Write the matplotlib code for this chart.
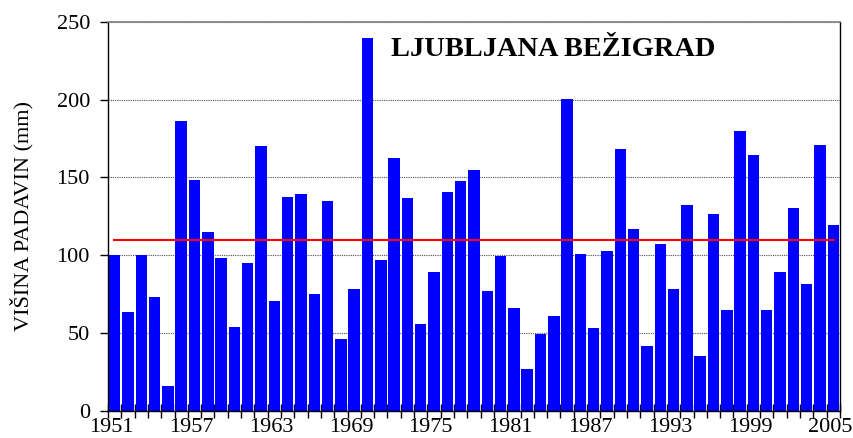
import numpy as np
import matplotlib
matplotlib.use('Agg')
import matplotlib.pyplot as plt

# Annual precipitation, Ljubljana Bezigrad
years = list(range(1951, 2006))
precip = [100.0, 63.4, 100.0, 73.0, 15.9, 186.2, 148.2, 114.8, 98.1, 53.8,
          94.9, 170.1, 70.5, 137.3, 139.2, 75.0, 134.7, 46.1, 78.2,
          239.5, 96.8, 162.4, 136.7, 55.7, 89.1, 140.5, 147.6, 154.7, 76.9,
          99.4, 66.0, 26.8, 49.3, 60.8, 200.3, 100.7, 53.1,
          102.6, 168.2, 116.8, 41.6, 107.1, 78.2, 132.2, 35.1, 126.4, 64.7,
          179.7, 164.3, 64.7, 89.1, 130.2, 81.4, 170.7, 119.3]
mean_value = 109.7
label_years = [1951, 1957, 1963, 1969, 1975, 1981, 1987, 1993, 1999, 2005]
title = 'LJUBLJANA BEŽIGRAD'
ylabel = 'VIŠINA PADAVIN (mm)'

plt.rcParams['font.family'] = ['Liberation Serif', 'DejaVu Serif']

fig = plt.figure(figsize=(8.54, 4.38), dpi=100)
ax = fig.add_axes([0.1265, 0.0623, 0.857, 0.888])

x = np.arange(len(years)) + 0.5
ax.bar(x, precip, width=0.86, color='#0000ff', zorder=2)
ax.hlines(mean_value, x[0] - 0.1, x[-1] + 0.1, color='red', linewidth=1.5, zorder=3)

ax.set_xlim(0, len(years))
ax.set_ylim(0, 250)
ax.set_yticks([0, 50, 100, 150, 200, 250])

# tick marks at category boundaries, labels under the bars
ax.set_xticks(np.arange(len(years) + 1))
ax.set_xticklabels([])
ax.tick_params(axis='x', which='major', direction='inout', length=9.5, width=1)
lab_pos = [years.index(y) + 0.25 for y in label_years]
ax.set_xticks(lab_pos, minor=True)
ax.set_xticklabels([str(y) for y in label_years], minor=True)
ax.tick_params(axis='x', which='minor', length=0, pad=5, labelsize=16)
ax.tick_params(axis='y', direction='out', length=6, width=1, labelsize=16, pad=7)

ax.grid(axis='y', linestyle=(0, (1, 1)), color='#505050', linewidth=0.8, zorder=1)

ax.spines['top'].set_color('#808080')
ax.spines['top'].set_linewidth(1.2)
for s in ['left', 'right', 'bottom']:
    ax.spines[s].set_color('black')
    ax.spines[s].set_linewidth(1.0)

ax.set_ylabel(ylabel, fontsize=16, labelpad=16.5)
ax.text(21.3, 232, title, fontsize=20.4, fontweight='bold', va='center', ha='left')

fig.savefig('out.png', dpi=100)
